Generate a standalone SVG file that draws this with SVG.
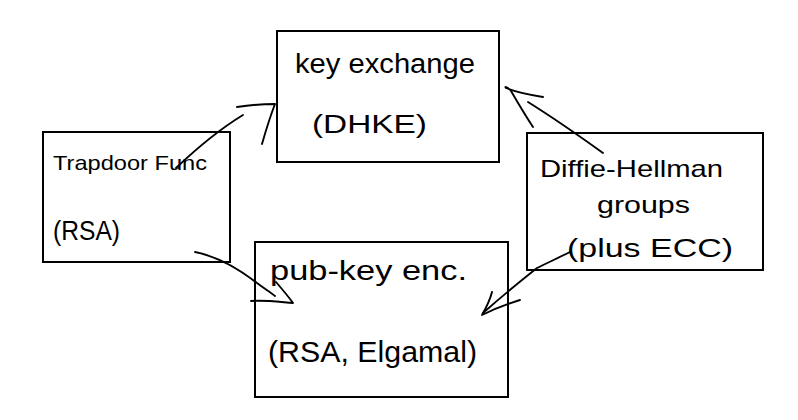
<svg xmlns="http://www.w3.org/2000/svg" width="798" height="420" viewBox="0 0 798 420">
<style>
.box{fill:#fff;stroke:#000;stroke-width:2}
.t{font-family:"Liberation Sans",Arial,sans-serif;fill:#000}
.ink{fill:none;stroke:#000;stroke-width:1.9;stroke-linecap:round;stroke-linejoin:round}
</style>
<rect width="798" height="420" fill="#fff"/>
<g id="key-exchange">
<rect class="box" x="277" y="31" width="222" height="131"/>
<text class="t" x="295" y="73" font-size="27" textLength="180" lengthAdjust="spacingAndGlyphs">key exchange</text>
<text class="t" x="312" y="133" font-size="26" textLength="115" lengthAdjust="spacingAndGlyphs">(DHKE)</text>
</g>
<g id="trapdoor">
<rect class="box" x="43" y="132" width="187" height="130"/>
<text class="t" x="53" y="170" font-size="21" textLength="154" lengthAdjust="spacingAndGlyphs">Trapdoor Func</text>
<text class="t" x="53" y="240" font-size="27" textLength="67" lengthAdjust="spacingAndGlyphs">(RSA)</text>
</g>
<g id="pubkey">
<rect class="box" x="255" y="242" width="253" height="155"/>
<text class="t" x="270" y="280" font-size="27" textLength="197" lengthAdjust="spacingAndGlyphs">pub-key enc.</text>
<text class="t" x="268" y="362" font-size="29" textLength="209" lengthAdjust="spacingAndGlyphs">(RSA, Elgamal)</text>
</g>
<g id="diffie-hellman">
<rect class="box" x="527" y="133" width="236" height="137"/>
<text class="t" x="540" y="177" font-size="24" textLength="183" lengthAdjust="spacingAndGlyphs">Diffie-Hellman</text>
<text class="t" x="597" y="213" font-size="24" textLength="93" lengthAdjust="spacingAndGlyphs">groups</text>
<text class="t" x="567" y="257" font-size="25" textLength="166" lengthAdjust="spacingAndGlyphs">(plus ECC)</text>
</g>
<g id="connectors">
<path class="ink" d="M176,168 C195,150 215,132 243,115"/>
<path class="ink" d="M237,107 C250,105 262,104 275,104 C270,117 266,130 262,144"/>
<path class="ink" d="M195,252 C215,256 235,266 257,283 C265,289 270,292 275,296"/>
<path class="ink" d="M251,301 C265,300 280,302 293,303 C288,296 282,289 276,282"/>
<path class="ink" d="M603,153 C578,135 552,117 528,102"/>
<path class="ink" d="M543,97 C530,95 515,92 506,88 C504,86 508,87 511,91 C518,103 525,115 533,127"/>
<path class="ink" d="M570,252 C558,258 547,263 537,268 C518,283 500,298 483,313"/>
<path class="ink" d="M492,292 C490,300 486,308 482,315 C494,309 507,304 520,300"/>
</g>
</svg>
